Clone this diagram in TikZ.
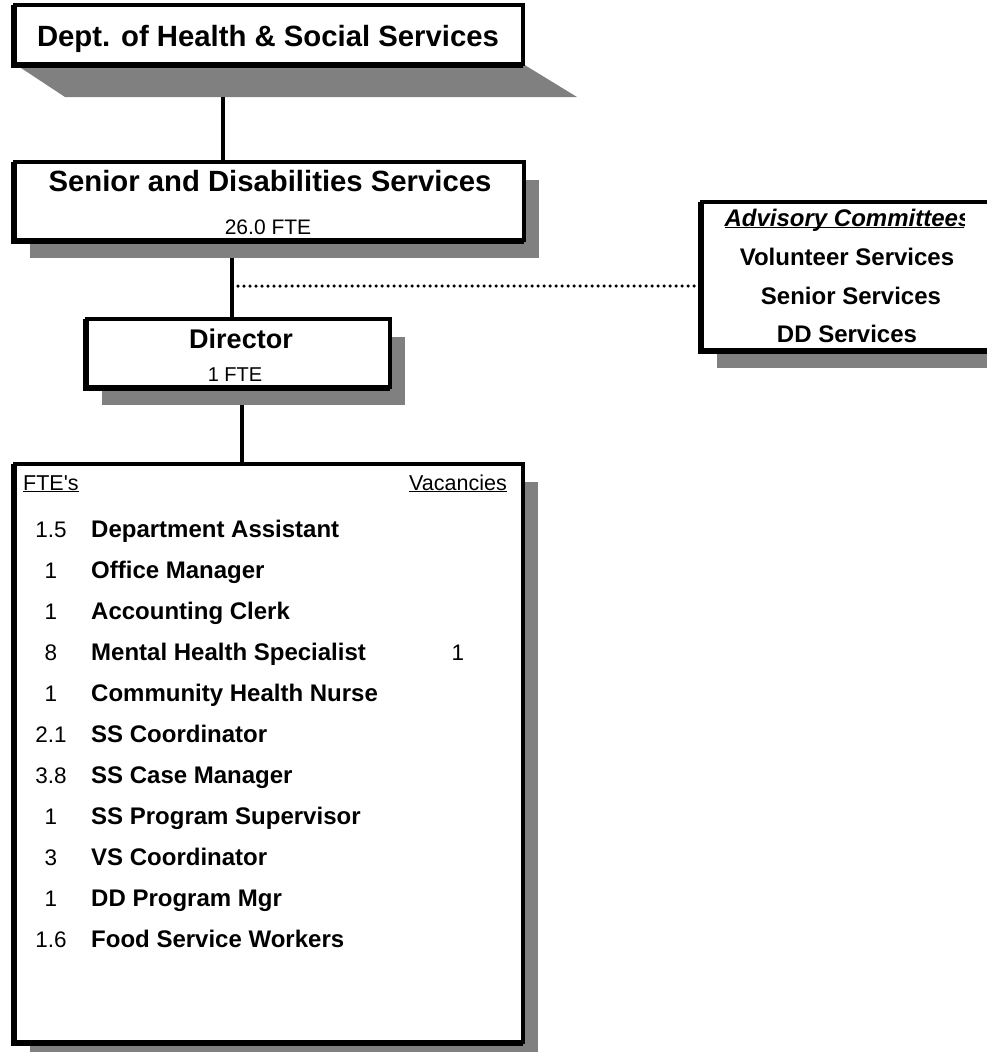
\documentclass[tikz,border=0pt]{standalone}
\usepackage{fontspec}
\setmainfont{Liberation Sans}
\usetikzlibrary{shadows, backgrounds}

\newcommand{\ulined}[1]{\underline{\smash{#1}}}

\begin{document}
\begin{tikzpicture}[
  x=1pt, y=-1pt,
  frame/.style   = {general shadow={draw=black, fill=black, line width=4pt,
                    shadow xshift=-2pt, shadow yshift=-2pt},
                    draw, line width=4pt, fill=white, inner sep=0pt,
                    outer sep=0pt, anchor=north west},
  box/.style     = {drop shadow={shadow xshift=15pt, shadow yshift=-18pt,
                    opacity=1, fill=black!50}, frame},
  conn/.style    = {line width=4pt},
  dotline/.style = {line width=3.5pt, line cap=round, dash pattern=on 0pt off 6pt},
  txt/.style     = {inner sep=0pt, anchor=base},
  headf/.style   = {txt, font=\fontsize{29.3}{35}\selectfont\bfseries},
  dirf/.style    = {txt, font=\fontsize{27}{32}\selectfont\bfseries},
  subf/.style    = {txt, font=\fontsize{21}{25}\selectfont},
  advf/.style    = {txt, font=\fontsize{24}{29}\selectfont\bfseries},
  colf/.style    = {txt, font=\fontsize{21.5}{25}\selectfont},
  numf/.style    = {txt, font=\fontsize{22.5}{27}\selectfont},
  jobf/.style    = {txt, anchor=base west, font=\fontsize{24}{29}\selectfont\bfseries},
]
  \useasboundingbox (0,0) rectangle (987,1052);

  % boxes
  \node[frame, minimum width=508pt, minimum height=59pt]  (dept)   at (15,5)   {};
  \node[box,   minimum width=509pt, minimum height=78pt]  (senior) at (15,162) {};
  \node[box,   minimum width=303pt, minimum height=68pt]  (dir)    at (87,319) {};
  \node[box,   minimum width=292pt, minimum height=148pt] (adv)    at (702,202) {};
  \node[box,   minimum width=508pt, minimum height=578pt] (staff)  at (15,464) {};

  % shadow of the top box and the connectors, under the boxes
  \begin{scope}[on background layer]
    \fill[black!50] (dept.south west) -- (dept.south east) -- (577,97) -- (65,97) -- cycle;
    \coordinate (deptfoot) at (223,97);
    \coordinate (tap)      at (232,286);
    \coordinate (drop)     at (242,430);
    \draw[conn] (deptfoot) -- (deptfoot |- senior.north);
    \draw[conn] (tap |- senior.south) -- (tap |- dir.north);
    \draw[conn] (drop |- dir.south) -- (drop |- staff.north);
  \end{scope}
  \draw[dotline] (tap) -- (tap -| adv.west);

  % box texts
  \node[headf] (deptname)   at (268,46)  {Dept. of Health \& Social Services};
  \node[headf] (seniorname) at (270,191) {Senior and Disabilities Services};
  \node[subf]  (seniorfte)  at (268,234) {26.0 FTE};
  \node[dirf]  (dirname)    at (241,348) {Director};
  \node[subf, font=\fontsize{20}{24}\selectfont] (dirfte) at (235,381) {1 FTE};

  \begin{scope}
    \clip (700,190) rectangle (964,240);
    \node[advf, font=\fontsize{24}{29}\selectfont\bfseries\itshape]
          (advtitle) at (848,226) {\ulined{Advisory Committees}};
  \end{scope}
  \node[advf] (advvol) at (847,265) {Volunteer Services};
  \node[advf] (advsen) at (851,304) {Senior Services};
  \node[advf] (advdd)  at (847,342) {DD Services};

  % staff list
  \node[colf, anchor=base west] (ftehead) at (23,490)  {\ulined{FTE\textquotesingle s}};
  \node[colf, anchor=base east] (vachead) at (507,490) {\ulined{Vacancies}};

  \node[numf] (fte0)  at (51,537) {1.5};
  \node[numf] (fte1)  at (51,578) {1};
  \node[numf] (fte2)  at (51,619) {1};
  \node[numf] (fte3)  at (51,660) {8};
  \node[numf] (fte4)  at (51,701) {1};
  \node[numf] (fte5)  at (51,742) {2.1};
  \node[numf] (fte6)  at (51,783) {3.8};
  \node[numf] (fte7)  at (51,824) {1};
  \node[numf] (fte8)  at (51,865) {3};
  \node[numf] (fte9)  at (51,906) {1};
  \node[numf] (fte10) at (51,947) {1.6};

  \node[jobf] (job0)  at (91,537) {Department Assistant};
  \node[jobf] (job1)  at (91,578) {Office Manager};
  \node[jobf] (job2)  at (91,619) {Accounting Clerk};
  \node[jobf] (job3)  at (91,660) {Mental Health Specialist};
  \node[jobf] (job4)  at (91,701) {Community Health Nurse};
  \node[jobf] (job5)  at (91,742) {SS Coordinator};
  \node[jobf] (job6)  at (91,783) {SS Case Manager};
  \node[jobf] (job7)  at (91,824) {SS Program Supervisor};
  \node[jobf] (job8)  at (91,865) {VS Coordinator};
  \node[jobf] (job9)  at (91,906) {DD Program Mgr};
  \node[jobf] (job10) at (91,947) {Food Service Workers};

  \node[numf] (vac3)  at (458,660) {1};
\end{tikzpicture}
\end{document}
